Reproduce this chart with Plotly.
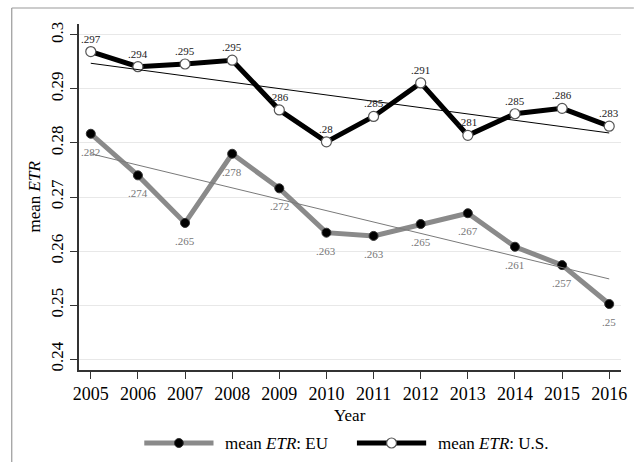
import numpy as np
import plotly.graph_objects as go

years = [2005, 2006, 2007, 2008, 2009, 2010, 2011, 2012, 2013, 2014, 2015, 2016]
etr_eu = [0.2817, 0.2740, 0.2652, 0.2780, 0.2716, 0.2634, 0.2628, 0.2650, 0.2670, 0.2608, 0.2574, 0.2502]
etr_us = [0.2969, 0.2941, 0.2946, 0.2953, 0.2861, 0.2802, 0.2849, 0.2911, 0.2814, 0.2854, 0.2864, 0.2831]
y_ticks = [0.24, 0.25, 0.26, 0.27, 0.28, 0.29, 0.30]
y_tick_text = ["0.24", "0.25", "0.26", "0.27", "0.28", "0.29", "0.3"]

FONT = "Liberation Serif, Times New Roman, serif"
W, H = 638, 462
L, R, T, B = 79, 11, 24, 92
PW, PH = W - L - R, H - T - B


def px_x(px):
    return (px - L) / PW


def px_y(py):
    return (H - B - py) / PH


def fmt(v):
    s = f"{round(v, 3):.3f}".rstrip("0")
    return s[1:] if s.startswith("0") else s


def trend(vals):
    slope, icpt = np.polyfit(years, vals, 1)
    return [slope * yr + icpt for yr in years]


fig = go.Figure()

fig.add_trace(go.Scatter(
    x=years, y=etr_eu, mode="lines+markers", name="EU",
    line=dict(color="#8a8a8a", width=5),
    marker=dict(color="black", size=9, line=dict(color="#333", width=1)),
))
fig.add_trace(go.Scatter(
    x=years, y=etr_us, mode="lines+markers", name="U.S.",
    line=dict(color="black", width=5),
    marker=dict(color="white", size=10, line=dict(color="#555", width=1.2)),
))
fig.add_trace(go.Scatter(
    x=years, y=trend(etr_eu), mode="lines", line=dict(color="#7a7a7a", width=1),
))
fig.add_trace(go.Scatter(
    x=years, y=trend(etr_us), mode="lines", line=dict(color="black", width=1),
))

annotations = []
for yr, v in zip(years, etr_us):
    annotations.append(dict(x=yr, y=v, text=fmt(v), showarrow=False, yshift=13,
                            font=dict(family=FONT, size=11, color="#222")))
for yr, v in zip(years, etr_eu):
    annotations.append(dict(x=yr, y=v, text=fmt(v), showarrow=False, yshift=-18,
                            font=dict(family=FONT, size=11, color="#777")))

# y axis title
annotations.append(dict(xref="paper", yref="paper", x=px_x(33), y=0.5, text="mean <i>ETR</i>",
                        textangle=-90, showarrow=False, xanchor="center", yanchor="middle",
                        font=dict(family=FONT, size=17, color="black")))
# x axis title
annotations.append(dict(xref="paper", yref="paper", x=0.5, y=px_y(415), text="Year",
                        showarrow=False, xanchor="center", yanchor="middle",
                        font=dict(family=FONT, size=17, color="black")))

# legend
leg_y = px_y(443)
annotations.append(dict(xref="paper", yref="paper", x=px_x(225), y=leg_y, text="mean <i>ETR</i>: EU",
                        showarrow=False, xanchor="left", yanchor="middle",
                        font=dict(family=FONT, size=17, color="black")))
annotations.append(dict(xref="paper", yref="paper", x=px_x(440), y=leg_y, text="mean <i>ETR</i>: U.S.",
                        showarrow=False, xanchor="left", yanchor="middle",
                        font=dict(family=FONT, size=17, color="black")))

shapes = [
    # outer frame (top and left edges)
    dict(type="line", xref="paper", yref="paper", x0=px_x(11), x1=px_x(640), y0=px_y(8), y1=px_y(8),
         line=dict(color="#9a9a9a", width=1.2)),
    dict(type="line", xref="paper", yref="paper", x0=px_x(11), x1=px_x(11), y0=px_y(8), y1=px_y(470),
         line=dict(color="#9a9a9a", width=1.2)),
    # legend keys
    dict(type="line", xref="paper", yref="paper", x0=px_x(145), x1=px_x(215), y0=leg_y, y1=leg_y,
         line=dict(color="#8a8a8a", width=5)),
    dict(type="circle", xref="paper", yref="paper", x0=px_x(175.5), x1=px_x(184.5),
         y0=px_y(447.5), y1=px_y(438.5), fillcolor="black", line=dict(color="#333", width=1)),
    dict(type="line", xref="paper", yref="paper", x0=px_x(360), x1=px_x(430), y0=leg_y, y1=leg_y,
         line=dict(color="black", width=5)),
    dict(type="circle", xref="paper", yref="paper", x0=px_x(390), x1=px_x(400),
         y0=px_y(448), y1=px_y(438), fillcolor="white", line=dict(color="#555", width=1.2)),
]

fig.update_layout(
    width=W, height=H,
    margin=dict(l=L, r=R, t=T, b=B, pad=0),
    paper_bgcolor="white", plot_bgcolor="white",
    showlegend=False,
    font=dict(family=FONT, color="black"),
    annotations=annotations,
    shapes=shapes,
    xaxis=dict(
        range=[2004.75, 2016.25], tickmode="array", tickvals=years,
        ticks="outside", ticklen=7, tickwidth=1.2, tickcolor="#333",
        showline=True, linecolor="#333", linewidth=1.5, showgrid=False, zeroline=False,
        tickfont=dict(family=FONT, size=18, color="black"),
    ),
    yaxis=dict(
        range=[0.238, 0.302], tickmode="array", tickvals=y_ticks, ticktext=y_tick_text,
        tickangle=-90, ticks="outside", ticklen=7, tickwidth=1.2, tickcolor="#333",
        showline=True, linecolor="#333", linewidth=1.5,
        showgrid=True, gridcolor="#e8e8e8", gridwidth=1, zeroline=False,
        tickfont=dict(family=FONT, size=17, color="black"),
    ),
)

fig.write_html("out.html")
